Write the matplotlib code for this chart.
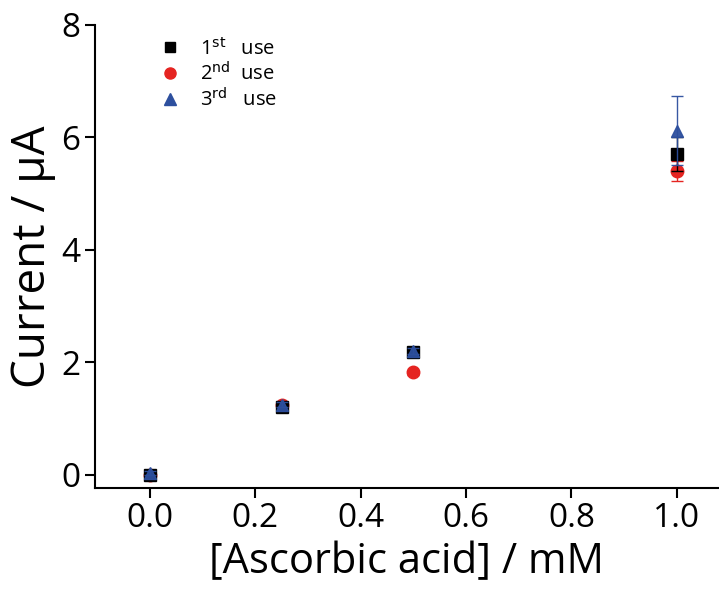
import matplotlib
matplotlib.use("Agg")
import matplotlib.pyplot as plt
from matplotlib.lines import Line2D

conc = [0.0, 0.25, 0.5, 1.0]
use1 = [0.0, 1.2, 2.18, 5.7]
use1_err = [0.03, 0.05, 0.08, 0.3]
use2 = [0.0, 1.25, 1.82, 5.4]
use2_err = [0.03, 0.05, 0.05, 0.18]
use3 = [0.03, 1.25, 2.2, 6.12]
use3_err = [0.03, 0.05, 0.05, 0.62]
labels = ['1$^{\\mathrm{st}}$   use', '2$^{\\mathrm{nd}}$  use', '3$^{\\mathrm{rd}}$   use']

plt.rcParams['font.family'] = ['Open Sans', 'DejaVu Sans']

fig = plt.figure(figsize=(7.19, 5.92), dpi=100)
ax = fig.add_axes([0.132, 0.176, 0.868, 0.782])

ax.errorbar(conc, use1, yerr=use1_err, fmt='s', color='black', ms=8, capsize=4, elinewidth=1, zorder=3)
ax.errorbar(conc, use2, yerr=use2_err, fmt='o', color='#e52421', ms=9, capsize=4, elinewidth=1, zorder=2)
ax.errorbar(conc, use3, yerr=use3_err, fmt='^', color='#2d4f9e', ms=9, capsize=4, elinewidth=1, zorder=4, alpha=0.95)

ax.set_xlim(-0.104, 1.08)
ax.set_ylim(-0.23, 8.0)
ax.set_xticks([0.0, 0.2, 0.4, 0.6, 0.8, 1.0])
ax.set_xticklabels(['0.0', '0.2', '0.4', '0.6', '0.8', '1.0'])
ax.set_yticks([0, 2, 4, 6, 8])
ax.spines['top'].set_visible(False)
ax.spines['right'].set_visible(False)
for s in ['left', 'bottom']:
    ax.spines[s].set_linewidth(1.5)
ax.tick_params(direction='out', length=7, width=1.5, labelsize=24)

ax.set_xlabel('[Ascorbic acid] / mM', fontsize=30)
ax.set_ylabel('Current / μA', fontsize=33)

handles = [
    Line2D([], [], ls='none', marker='s', color='black', ms=7),
    Line2D([], [], ls='none', marker='o', color='#e52421', ms=8),
    Line2D([], [], ls='none', marker='^', color='#2d4f9e', ms=9),
]
ax.legend(handles, labels, loc='upper left', bbox_to_anchor=(0.075, 1.012), frameon=False, fontsize=14.5,
          handlelength=1.0, handletextpad=1.0, labelspacing=0.14)

fig.savefig('out.png', dpi=100)
